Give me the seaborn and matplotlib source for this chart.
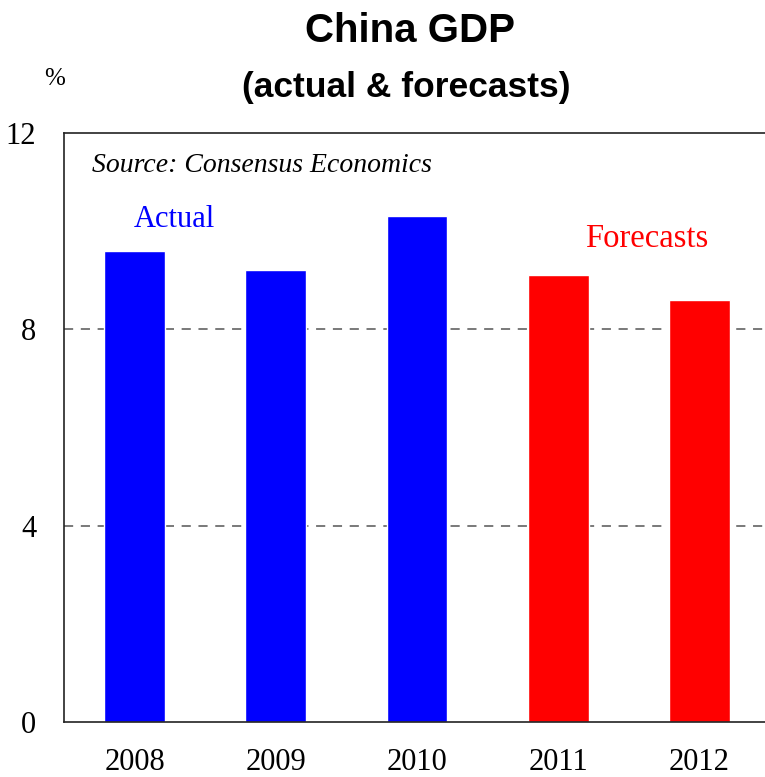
import matplotlib
matplotlib.use("Agg")
import matplotlib.pyplot as plt
import seaborn as sns
import pandas as pd

# Annual real GDP growth, per cent
years = ["2008", "2009", "2010", "2011", "2012"]
growth = [9.6, 9.2, 10.3, 9.1, 8.6]
kind = ["Actual", "Actual", "Actual", "Forecasts", "Forecasts"]
y_ticks = [0, 4, 8, 12]

df = pd.DataFrame({"year": years, "growth": growth, "kind": kind})

sns.set_style("white")
plt.rcParams["font.family"] = ["Liberation Serif", "DejaVu Serif"]
for key in ["text.color", "xtick.color", "ytick.color", "axes.labelcolor"]:
    plt.rcParams[key] = "black"

SANS = ["Liberation Sans", "DejaVu Sans"]

fig = plt.figure(figsize=(7.65, 7.77), dpi=100)
ax = fig.add_axes([64 / 765, 1 - 722 / 777, 706 / 765, 589 / 777])

sns.barplot(data=df, x="year", y="growth", hue="kind",
            palette={"Actual": "#0000ff", "Forecasts": "#ff0000"},
            dodge=False, width=0.43, saturation=1, legend=False, ax=ax)

ax.set_ylim(0, 12)
ax.set_xlim(-0.5, 4.5)
ax.set_yticks(y_ticks)
ax.set_yticklabels([str(t) for t in y_ticks], fontsize=22)
ax.set_xlabel("")
ax.set_ylabel("")

# category labels below, with small inward ticks at category boundaries
ax.set_xticks(range(len(years)))
ax.tick_params(axis="x", which="major", length=0, labelsize=22, pad=19)
ax.tick_params(axis="y", length=0, pad=20)
ax.set_xticks([0.5, 1.5, 2.5, 3.5], minor=True)
ax.tick_params(axis="x", which="minor", direction="in", length=9,
               width=1, color="#333333")

for v in [4, 8]:
    ax.axhline(v, color="#555555", lw=1.1, ls=(0, (6, 5)), zorder=0)

for side in ["left", "bottom", "top"]:
    ax.spines[side].set_visible(True)
    ax.spines[side].set_color("#222222")
    ax.spines[side].set_linewidth(1.2)
ax.spines["right"].set_visible(False)

ax.text(0.04, 0.945, "Source: Consensus Economics", transform=ax.transAxes,
        fontsize=20, style="italic", ha="left", va="center")
ax.text(0.156, 0.853, "Actual", transform=ax.transAxes,
        fontsize=22, color="#0000ff", ha="center", va="center")
ax.text(0.826, 0.82, "Forecasts", transform=ax.transAxes,
        fontsize=23.5, color="#ff0000", ha="center", va="center")

fig.text(410 / 765, 1 - 42 / 777, "China GDP", fontsize=29, fontweight="bold",
         family=SANS, ha="center", va="baseline")
fig.text(406 / 765, 1 - 97 / 777, "(actual & forecasts)", fontsize=25.5,
         fontweight="bold", family=SANS, ha="center", va="baseline")
fig.text(55 / 765, 1 - 79 / 777, "%", fontsize=18, ha="center", va="center")

fig.savefig("out.png", dpi=100)
